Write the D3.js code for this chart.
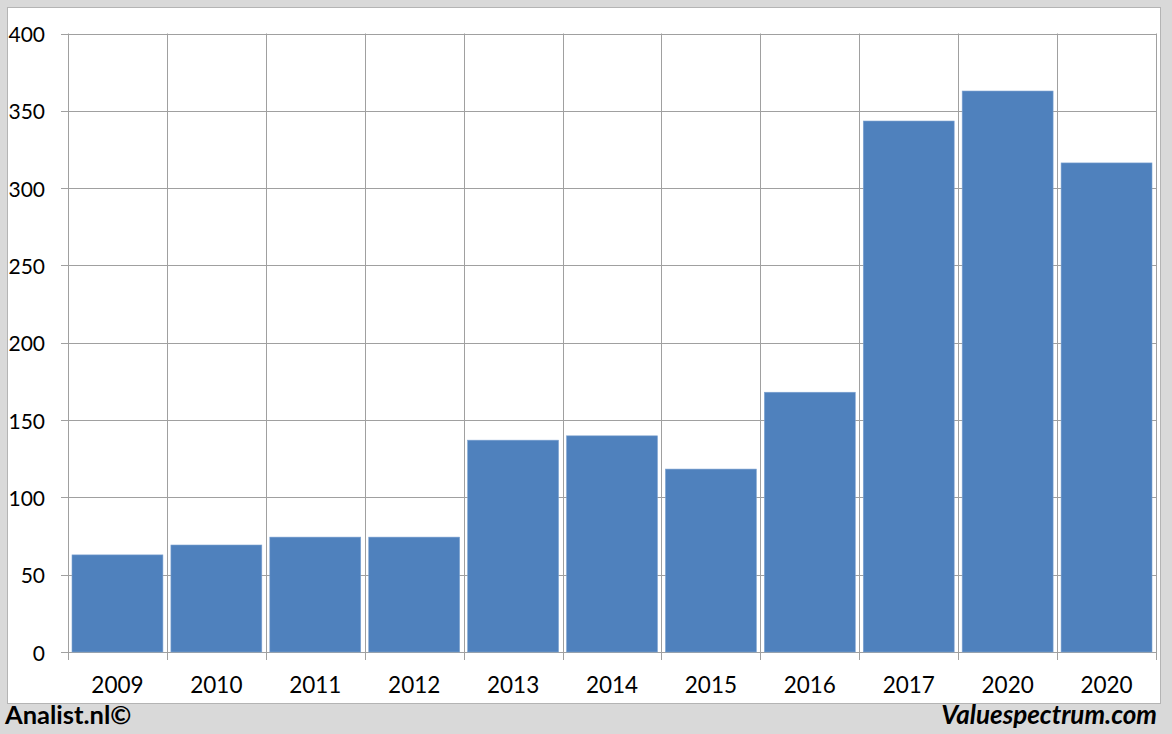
<!DOCTYPE html>
<html>
<head>
<meta charset="utf-8">
<script src="https://cdn.jsdelivr.net/npm/d3@7"></script>
<style>
  html, body { margin: 0; padding: 0; background: #d9d9d9; }
  svg { display: block; }
</style>
</head>
<body>
<svg id="chart" width="1172" height="734"></svg>
<script>
const categories = ["2009", "2010", "2011", "2012", "2013", "2014", "2015", "2016", "2017", "2020", "2020"];
const values = [62.8, 69.2, 74.3, 74.3, 137, 139.8, 118.3, 168, 343.4, 362.8, 316.3];
const yTicks = [0, 50, 100, 150, 200, 250, 300, 350, 400];

const svg = d3.select("#chart");
const W = 1172, H = 734;
const font = "Lato, 'Open Sans', sans-serif";

// background and white panel
svg.append("rect").attr("width", W).attr("height", H).attr("fill", "#d9d9d9");
svg.append("rect").attr("x", 7.5).attr("y", 7.5).attr("width", 1153).attr("height", 696)
  .attr("fill", "#ffffff").attr("stroke", "#b4b4b4").attr("stroke-width", 1);

const plotLeft = 68, plotRight = 1156, plotTop = 33.5, plotBottom = 652;
const idx = categories.map((d, i) => i);
const x = d3.scaleBand().domain(idx).range([plotLeft, plotRight]).paddingInner(0).paddingOuter(0);
const y = d3.scaleLinear().domain([0, 400]).range([plotBottom, plotTop]);

const gridColor = "#a0a0a0";

// horizontal gridlines
svg.append("g").selectAll("line").data(yTicks).join("line")
  .attr("x1", plotLeft - 7).attr("x2", plotRight)
  .attr("y1", d => Math.round(y(d)) + 0.5).attr("y2", d => Math.round(y(d)) + 0.5)
  .attr("stroke", gridColor).attr("stroke-width", 1);

// vertical gridlines at category boundaries
const bounds = idx.map(i => x(i)).concat([plotRight]);
svg.append("g").selectAll("line").data(bounds).join("line")
  .attr("x1", d => Math.round(d) + 0.5).attr("x2", d => Math.round(d) + 0.5)
  .attr("y1", plotTop).attr("y2", plotBottom + 8)
  .attr("stroke", gridColor).attr("stroke-width", 1);

// bars
const pad = 4;
svg.append("g").selectAll("rect").data(values).join("rect")
  .attr("x", (d, i) => x(i) + pad)
  .attr("width", x.bandwidth() - 2 * pad)
  .attr("y", d => y(d))
  .attr("height", d => y(0) - y(d))
  .attr("fill", "#4f81bd")
  .attr("stroke", "#7ea3d1").attr("stroke-width", 0.6);

// y axis labels
svg.append("g").selectAll("text").data(yTicks).join("text")
  .attr("x", 45).attr("y", d => y(d))
  .attr("text-anchor", "end").attr("dominant-baseline", "central")
  .attr("font-family", font).attr("font-size", 21).attr("fill", "#000")
  .text(d => d);

// x axis labels
svg.append("g").selectAll("text").data(categories).join("text")
  .attr("x", (d, i) => x(i) + x.bandwidth() / 2).attr("y", 684)
  .attr("text-anchor", "middle").attr("dominant-baseline", "central")
  .attr("font-family", font).attr("font-size", 22.5).attr("fill", "#000")
  .text(d => d);

// footer
svg.append("text").attr("x", 5).attr("y", 724)
  .attr("font-family", font).attr("font-weight", "bold").attr("font-size", 25.5)
  .attr("fill", "#000").text("Analist.nl©");
svg.append("text").attr("x", 1157).attr("y", 724).attr("text-anchor", "end")
  .attr("font-family", font).attr("font-weight", "bold").attr("font-style", "italic").attr("font-size", 26)
  .attr("fill", "#000").text("Valuespectrum.com");
</script>
</body>
</html>
